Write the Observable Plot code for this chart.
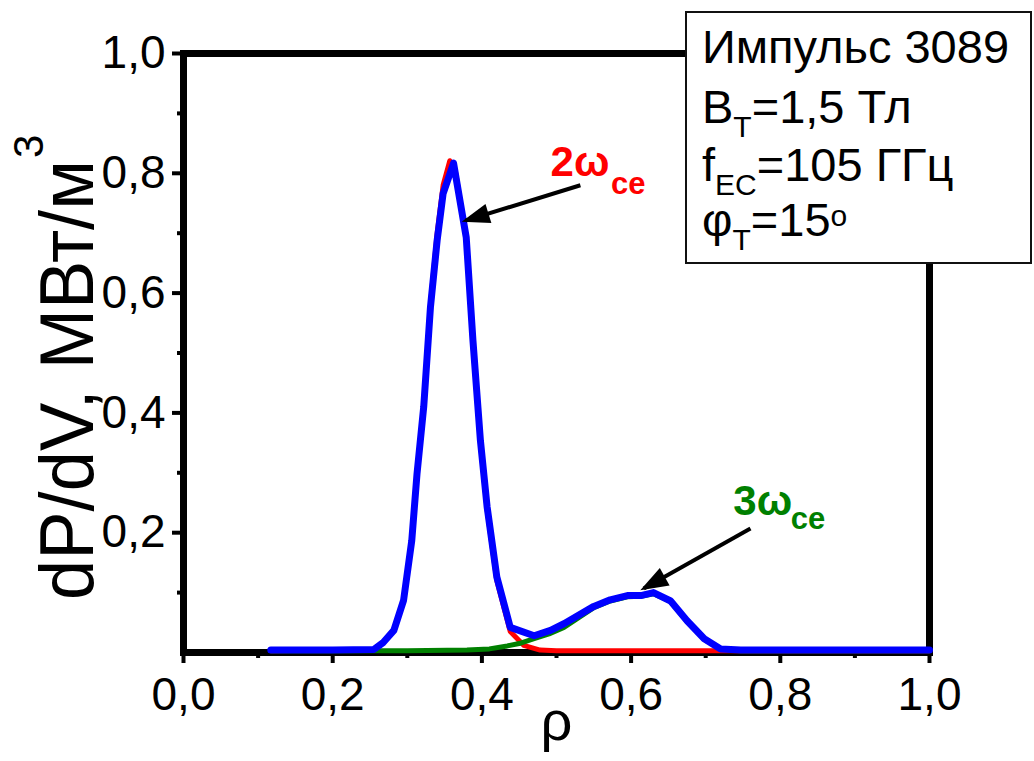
<!DOCTYPE html>
<html><head><meta charset="utf-8">
<script src="https://cdn.jsdelivr.net/npm/d3@7"></script>
<script src="https://cdn.jsdelivr.net/npm/@observablehq/plot@0.6"></script>
<style>
html,body{margin:0;padding:0;background:#fff;}
#wrap{position:relative;width:1034px;height:761px;font-family:"Liberation Sans",Arial,sans-serif;}
#info{position:absolute;left:0;top:0;pointer-events:none;}
</style></head><body><div id="wrap"></div>
<script>
// ---- data ----
const rhoTotal = [0.117, 0.20, 0.255, 0.268, 0.282, 0.295, 0.306, 0.313, 0.322, 0.331, 0.340, 0.348, 0.362, 0.379, 0.388, 0.398, 0.407, 0.420, 0.438, 0.470, 0.492, 0.510, 0.550, 0.572, 0.595, 0.613, 0.630, 0.653, 0.675, 0.698, 0.720, 0.747, 0.80, 1.0];
const valTotal = [0.004, 0.004, 0.005, 0.017, 0.037, 0.087, 0.187, 0.298, 0.41, 0.576, 0.688, 0.766, 0.817, 0.693, 0.521, 0.354, 0.243, 0.126, 0.042, 0.028, 0.037, 0.048, 0.077, 0.088, 0.095, 0.095, 0.10, 0.086, 0.053, 0.023, 0.006, 0.004, 0.004, 0.004];
const rho2 = [0.117, 0.255, 0.268, 0.282, 0.295, 0.306, 0.313, 0.322, 0.331, 0.340, 0.348, 0.357, 0.365, 0.379, 0.388, 0.398, 0.407, 0.420, 0.438, 0.456, 0.478, 0.50, 1.0];
const val2 = [0.003, 0.005, 0.017, 0.037, 0.087, 0.187, 0.298, 0.41, 0.58, 0.70, 0.78, 0.821, 0.80, 0.69, 0.515, 0.35, 0.238, 0.12, 0.035, 0.012, 0.004, 0.003, 0.003];
const rho3 = [0.117, 0.30, 0.38, 0.41, 0.434, 0.45, 0.47, 0.49, 0.51, 0.55, 0.572, 0.595, 0.613, 0.630, 0.653, 0.675, 0.698, 0.720, 0.747, 1.0];
const val3 = [0.003, 0.003, 0.004, 0.006, 0.011, 0.015, 0.023, 0.031, 0.042, 0.075, 0.086, 0.093, 0.094, 0.098, 0.085, 0.052, 0.022, 0.006, 0.003, 0.003];

const xTicksMajor = [0, 0.2, 0.4, 0.6, 0.8, 1.0];
const xTicksMinor = [0.1, 0.3, 0.5, 0.7, 0.9];
const yTicksMajor = [0.2, 0.4, 0.6, 0.8, 1.0];
const yTicksMinor = [0.1, 0.3, 0.5, 0.7, 0.9];

const xLabel = "ρ";
const yLabelMain = "dP/dV, МВт/м";
const yLabelSup = "3";

// annotations (data coordinates)
const annoMain = ["2ω", "3ω"];
const annoSub = ["ce", "ce"];
const annoColor = ["#ff0000", "#008000"];
const annoX = [0.492, 0.737];
const annoY = [0.796, 0.229];
const annoSubX = [0.573, 0.814];
const annoSubY = [0.766, 0.207];
const arrowX1 = [0.532, 0.760];
const arrowY1 = [0.780, 0.207];
const arrowX2 = [0.378, 0.617];
const arrowY2 = [0.721, 0.107];

// ---- build ----
const toRows = (xs, ys) => xs.map((r, i) => ({rho: r, v: ys[i]}));
const totalData = toRows(rhoTotal, valTotal);
const h2Data = toRows(rho2, val2);
const h3Data = toRows(rho3, val3);

const W = 1034, H = 761, mL = 183, mR = 105, mT = 53, mB = 109;
const kx = (W - mL - mR), ky = (H - mT - mB);
const arrows = arrowX1.map((x1, i) => {
  const x2 = arrowX2[i], y1 = arrowY1[i], y2 = arrowY2[i];
  return {x1, y1, x2, y2, angle: Math.atan2(-(y2 - y1) * ky, (x2 - x1) * kx) * 180 / Math.PI};
});
const labels = annoMain.map((t, i) => ({t, s: annoSub[i], c: annoColor[i], x: annoX[i], y: annoY[i], sx: annoSubX[i], sy: annoSubY[i]}));
const headSymbol = {draw(ctx) { ctx.moveTo(4, 0); ctx.lineTo(-24, -10); ctx.lineTo(-24, 10); ctx.closePath(); }};
const fmt = d => d.toFixed(1).replace(".", ",");

const chart = Plot.plot({
  width: W, height: H,
  marginLeft: mL, marginRight: mR, marginTop: mT, marginBottom: mB,
  style: {fontFamily: '"Liberation Sans", Arial, sans-serif', color: "#000", background: "#fff", overflow: "visible"},
  x: {domain: [0, 1], label: null},
  y: {domain: [0, 1], label: null},
  marks: [
    Plot.axisX({ticks: xTicksMajor, tickSize: 11, tickPadding: 14, strokeWidth: 4, fontSize: 46, tickFormat: fmt, label: null}),
    Plot.axisX({ticks: xTicksMinor, tickSize: 6, strokeWidth: 4, tickFormat: () => "", label: null}),
    Plot.axisY({ticks: yTicksMajor, tickSize: 11, tickPadding: 7, strokeWidth: 4, fontSize: 46, tickFormat: fmt, label: null}),
    Plot.axisY({ticks: yTicksMinor, tickSize: 6, strokeWidth: 4, tickFormat: () => "", label: null}),
    Plot.frame({stroke: "#000", strokeWidth: 7}),
    Plot.line(h2Data, {x: "rho", y: "v", stroke: "#ff0000", strokeWidth: 5, strokeLinejoin: "round"}),
    Plot.line(h3Data, {x: "rho", y: "v", stroke: "#008000", strokeWidth: 5, strokeLinejoin: "round"}),
    Plot.line(totalData, {x: "rho", y: "v", stroke: "#0000ff", strokeWidth: 7, strokeLinejoin: "round"}),
    Plot.link(arrows, {x1: "x1", y1: "y1", x2: "x2", y2: "y2", stroke: "#000", strokeWidth: 4}),
    Plot.dot(arrows, {x: "x2", y: "y2", symbol: headSymbol, rotate: "angle", fill: "#000", stroke: null}),
    Plot.text(labels, {x: "x", y: "y", text: "t", fill: "c", fontSize: 42, fontWeight: "bold", textAnchor: "start", lineAnchor: "bottom"}),
    Plot.text(labels, {x: "sx", y: "sy", text: "s", fill: "c", fontSize: 31, fontWeight: "bold", textAnchor: "start", lineAnchor: "bottom"}),
    Plot.text([xLabel], {frameAnchor: "bottom", dy: 87, fontSize: 56, lineAnchor: "bottom", fill: "#000"})
  ]
});
const wrap = document.getElementById("wrap");
wrap.appendChild(chart);

// ---- overlay: y-axis title and info box ----
const ns = "http://www.w3.org/2000/svg";
const FONT = '"Liberation Sans", Arial, sans-serif';
const el = (tag, attrs, parent) => {
  const e = document.createElementNS(ns, tag);
  Object.entries(attrs).forEach(([k, v]) => e.setAttribute(k, v));
  if (parent) parent.appendChild(e);
  return e;
};
const svg = el("svg", {id: "info", width: W, height: H});

// y title (rotated)
const yMain = el("text", {transform: "translate(93,600) rotate(-90)", "font-size": 76, "font-family": FONT, textLength: 440, lengthAdjust: "spacingAndGlyphs"}, svg);
yMain.textContent = yLabelMain;
const ySup = el("text", {transform: "translate(43,158) rotate(-90)", "font-size": 42, "font-family": FONT}, svg);
ySup.textContent = yLabelSup;

// info box
const infoLines = [
  [["Импульс 3089", 0]],
  [["B", 0], ["T", 1], ["=1,5 Тл", 0]],
  [["f", 0], ["EC", 1], ["=105 ГГц", 0]],
  [["φ", 0], ["T", 1], ["=15", 0], ["o", 2]]
];
el("rect", {x: 686, y: 12, width: 345, height: 251, fill: "#fff", stroke: "#111", "stroke-width": 2}, svg);
const baselines = [63, 123, 181, 236];
infoLines.forEach((segs, li) => {
  const t = el("text", {x: 702, y: baselines[li], "font-size": 47, "font-family": FONT}, svg);
  let cur = 0;
  segs.forEach(([s, kind]) => {
    const target = kind === 1 ? 14 : kind === 2 ? -10 : 0;
    const sp = el("tspan", {dy: target - cur}, t);
    cur = target;
    if (kind) sp.setAttribute("font-size", 30);
    sp.textContent = s;
  });
});
wrap.appendChild(svg);
</script></body></html>
